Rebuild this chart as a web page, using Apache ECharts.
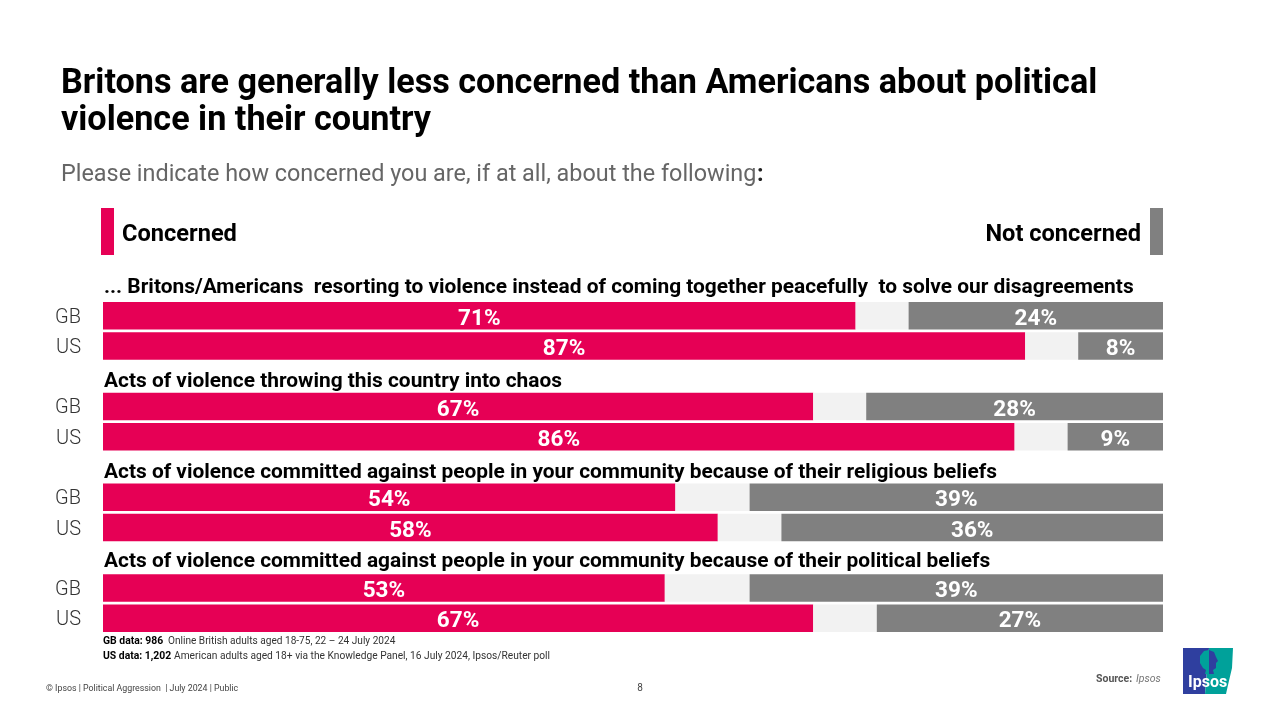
<!DOCTYPE html>
<html lang="en">
<head>
    <meta charset="UTF-8">
    <title>Political violence</title>
    <script src="https://cdn.jsdelivr.net/npm/echarts@6/dist/echarts.min.js"></script>
    <style>
        html, body { margin: 0; padding: 0; background: #fff; }
        #main { width: 1280px; height: 720px; }
    </style>
</head>
<body>
<div id="main"></div>
<script>
    // blank rows leave room for the question headings
    var categories = ['GB', 'US', ' ', 'GB ', 'US ', '  ', 'GB  ', 'US  ', '   ', 'GB   ', 'US   '];
    var concerned = [71, 87, null, 67, 86, null, 54, 58, null, 53, 67];
    var neutral = [5, 5, null, 5, 5, null, 7, 6, null, 8, 6];
    var notConcerned = [24, 8, null, 28, 9, null, 39, 36, null, 39, 27];
    var questions = [
        '... Britons/Americans  resorting to violence instead of coming together peacefully  to solve our disagreements',
        'Acts of violence throwing this country into chaos',
        'Acts of violence committed against people in your community because of their religious beliefs',
        'Acts of violence committed against people in your community because of their political beliefs'
    ];
    var questionY = [288, 382, 473, 562];

    var FONT = 'Roboto';
    var PINK = '#e60055';
    var GREY = '#808080';

    function txt(x, y, text, size, weight, color, align, style) {
        return {
            type: 'text', x: x, y: y, silent: true,
            style: {
                text: text, fontFamily: FONT, fontSize: size, fontWeight: weight || 'normal',
                fontStyle: style || 'normal', fill: color || '#000',
                align: align || 'left', verticalAlign: 'middle'
            }
        };
    }

    var graphics = [
        txt(61, 84, 'Britons are generally less concerned than Americans about political', 34.2, 'bold'),
        txt(61, 121, 'violence in their country', 34.2, 'bold'),
        txt(61, 175, 'Please indicate how concerned you are, if at all, about the following', 23.4, 'normal', '#666'),
        txt(757, 175, ':', 23.4, 'bold', '#222'),
        { type: 'rect', shape: { x: 101, y: 208, width: 13, height: 47 }, style: { fill: PINK } },
        { type: 'rect', shape: { x: 1150, y: 208, width: 13, height: 47 }, style: { fill: GREY } },
        txt(122, 235, 'Concerned', 23.6, 'bold'),
        txt(1141, 235, 'Not concerned', 23.6, 'bold', '#000', 'right'),
        txt(103, 641, 'GB data: 986', 10.4, 'bold'),
        txt(168, 641, 'Online British adults aged 18-75, 22 – 24 July 2024', 10.1, 'normal', '#333'),
        txt(103, 656, 'US data: 1,202', 10.4, 'bold'),
        txt(174, 656, 'American adults aged 18+ via the Knowledge Panel, 16 July 2024, Ipsos/Reuter poll', 10.2, 'normal', '#333'),
        txt(46, 689, '© Ipsos | Political Aggression  | July 2024 | Public', 8.8, 'normal', '#444'),
        txt(640, 688, '8', 10, 'normal', '#444', 'center'),
        txt(1096, 679, 'Source:', 10.5, 'bold', '#555'),
        txt(1136, 679, 'Ipsos', 10.5, 'normal', '#777', 'left', 'italic'),
        // logo
        { type: 'polygon', shape: { points: [[1183, 648], [1209, 648], [1205, 694], [1183, 694]] }, style: { fill: '#2f3f9f' } },
        { type: 'polygon', shape: { points: [[1209, 648], [1233, 648], [1232, 668], [1228, 685], [1226, 694], [1205, 694]] }, style: { fill: '#00a19a' } },
        { type: 'polygon', shape: { points: [[1209, 650], [1204, 651], [1200, 656], [1200, 663], [1203, 668], [1206, 670], [1205, 674], [1209, 674]] }, style: { fill: '#00a19a' } },
        { type: 'polygon', shape: { points: [[1209, 650], [1214, 652], [1216, 657], [1218, 661], [1216, 663], [1216, 668], [1213, 670], [1214, 674], [1209, 674]] }, style: { fill: '#2f3f9f' } },
        txt(1188, 683, 'Ipsos', 16, 'bold', '#fff')
    ];
    questions.forEach(function (q, i) {
        graphics.push(txt(104, questionY[i], q, 20.9, 'bold'));
    });

    function barSeries(name, values, color, showLabel) {
        return {
            name: name,
            type: 'bar',
            stack: 'total',
            barWidth: 27.5,
            data: values,
            silent: true,
            itemStyle: { color: color },
            label: {
                show: showLabel,
                position: 'inside',
                offset: [0, 3.5],
                color: '#fff',
                fontFamily: FONT,
                fontWeight: 'bold',
                fontSize: 22.5,
                formatter: '{c}%'
            }
        };
    }

    var chart = echarts.init(document.getElementById('main'));
    chart.setOption({
        animation: false,
        backgroundColor: '#fff',
        grid: { left: 103, top: 300.5, width: 1060, height: 333, containLabel: false },
        xAxis: { type: 'value', min: 0, max: 100, show: false },
        yAxis: {
            type: 'category',
            inverse: true,
            data: categories,
            axisLine: { show: false },
            axisTick: { show: false },
            axisLabel: {
                margin: 22,
                interval: 0,
                formatter: function (v) { return v.trim() ? '{row|' + v.trim() + '}' : ''; },
                rich: {
                    row: {
                        color: '#333',
                        fontFamily: FONT,
                        fontWeight: 300,
                        fontSize: 20,
                        padding: [4, 0, 0, 0]
                    }
                }
            }
        },
        series: [
            barSeries('Concerned', concerned, PINK, true),
            barSeries('Neither', neutral, '#f2f2f2', false),
            barSeries('Not concerned', notConcerned, GREY, true)
        ],
        graphic: { elements: graphics }
    });
</script>
</body>
</html>
